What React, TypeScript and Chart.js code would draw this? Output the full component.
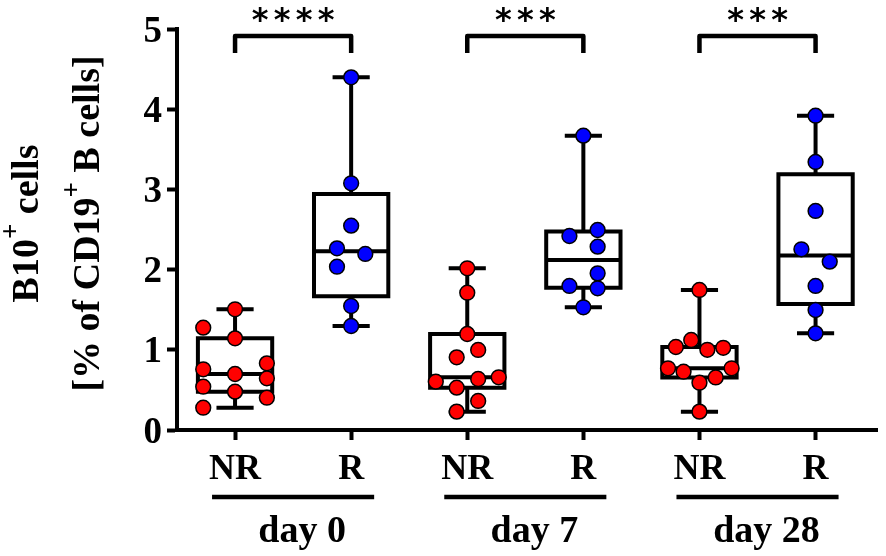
import React, { useEffect, useRef } from "react";
import { Chart, registerables } from "chart.js";

Chart.register(...registerables);

// ---------- data ----------
const groupLabels = ["NR", "R", "NR", "R", "NR", "R"];
const dayLabels = ["day 0", "day 7", "day 28"];
const significance = ["****", "***", "***"];
const yTickValues = [0, 1, 2, 3, 4, 5];

const nrDay0 = [1.505, 1.276, 1.143, 0.831, 0.757, 0.698, 0.644, 0.54, 0.478, 0.403, 0.278];
const nrDay0Slot = [0, -0.274, 0, 0.274, -0.274, 0, 0.274, -0.274, 0, 0.274, -0.274];

const rDay0 = [4.397, 3.076, 2.548, 2.265, 2.195, 2.036, 1.546, 1.297];
const rDay0Slot = [0, 0, 0, -0.122, 0.122, -0.122, 0, 0];

const nrDay7 = [2.016, 1.712, 1.197, 0.998, 0.906, 0.603, 0.636, 0.657, 0.528, 0.362, 0.229];
const nrDay7Slot = [0, 0, 0, 0.094, -0.091, -0.271, 0.094, 0.271, -0.091, 0.094, -0.091];

const rDay7 = [3.67, 2.419, 2.494, 2.286, 1.953, 1.796, 1.767, 1.53];
const rDay7Slot = [0, -0.12, 0.123, 0.123, 0.123, -0.12, 0.123, 0];

const nrDay28 = [1.746, 1.122, 1.035, 1.025, 1.0, 0.769, 0.727, 0.769, 0.655, 0.59, 0.229];
const nrDay28Slot = [0, -0.071, -0.203, 0.205, 0.068, -0.271, -0.137, 0.277, 0.14, 0, 0];

const rDay28 = [3.919, 3.342, 2.731, 2.253, 2.099, 1.796, 1.496, 1.205];
const rDay28Slot = [0, 0, 0, -0.122, 0.122, 0, 0, 0];

const groupValues = [nrDay0, rDay0, nrDay7, rDay7, nrDay28, rDay28];
const groupSlots = [nrDay0Slot, rDay0Slot, nrDay7Slot, rDay7Slot, nrDay28Slot, rDay28Slot];

// ---------- styles ----------
const RED = "#ff0000";
const BLUE = "#0000ff";
const SERIF = "'Liberation Serif', 'Times New Roman', serif";
const BOX_WIDTH = 0.64; // in category units
const CAP_WIDTH = 0.32;
const LINE_W = 4;

function quantile(sorted: number[], p: number) {
  const n = sorted.length;
  let r = (n + 1) * p; // 1-based rank (Prism style)
  if (r < 1) r = 1;
  if (r > n) r = n;
  const lo = Math.floor(r);
  const hi = Math.ceil(r);
  const f = r - lo;
  return sorted[lo - 1] + f * (sorted[hi - 1] - sorted[lo - 1]);
}

function boxStats(values: number[]) {
  const s = [...values].sort((a, b) => a - b);
  return {
    min: s[0],
    max: s[s.length - 1],
    q1: quantile(s, 0.25),
    med: quantile(s, 0.5),
    q3: quantile(s, 0.75),
  };
}

const boxPlugin = {
  id: "boxes",
  beforeDatasetsDraw(chart: any) {
    const { ctx, scales } = chart;
    const x = scales.x;
    const y = scales.y;
    ctx.save();
    ctx.strokeStyle = "#000";
    ctx.lineWidth = LINE_W;
    ctx.lineJoin = "miter";
    groupValues.forEach((vals, i) => {
      const s = boxStats(vals);
      const cx = x.getPixelForValue(i);
      const bl = x.getPixelForValue(i - BOX_WIDTH / 2);
      const br = x.getPixelForValue(i + BOX_WIDTH / 2);
      const cl = x.getPixelForValue(i - CAP_WIDTH / 2);
      const cr = x.getPixelForValue(i + CAP_WIDTH / 2);
      const yq1 = y.getPixelForValue(s.q1);
      const yq3 = y.getPixelForValue(s.q3);
      const ymed = y.getPixelForValue(s.med);
      const ymin = y.getPixelForValue(s.min);
      const ymax = y.getPixelForValue(s.max);
      // whiskers
      ctx.beginPath();
      ctx.moveTo(cx, ymax);
      ctx.lineTo(cx, yq3);
      ctx.moveTo(cx, yq1);
      ctx.lineTo(cx, ymin);
      ctx.moveTo(cl, ymax);
      ctx.lineTo(cr, ymax);
      ctx.moveTo(cl, ymin);
      ctx.lineTo(cr, ymin);
      ctx.stroke();
      // box
      ctx.beginPath();
      ctx.rect(bl, yq3, br - bl, yq1 - yq3);
      ctx.stroke();
      // median
      ctx.beginPath();
      ctx.moveTo(bl, ymed);
      ctx.lineTo(br, ymed);
      ctx.stroke();
    });
    ctx.restore();
  },
};

function drawRich(ctx: CanvasRenderingContext2D, parts: { t: string; sup?: boolean }[], size: number) {
  const big = `bold ${size}px ${SERIF}`;
  const small = `bold ${Math.round(size * 0.7)}px ${SERIF}`;
  let total = 0;
  const widths = parts.map((p) => {
    ctx.font = p.sup ? small : big;
    const w = ctx.measureText(p.t).width;
    total += w;
    return w;
  });
  let cur = -total / 2;
  parts.forEach((p, i) => {
    ctx.font = p.sup ? small : big;
    ctx.fillText(p.t, cur, p.sup ? -size * 0.5 : 0);
    cur += widths[i];
  });
}

const annotationPlugin = {
  id: "annotations",
  afterDraw(chart: any) {
    const { ctx, scales, chartArea } = chart;
    const x = scales.x;
    const y = scales.y;
    ctx.save();
    ctx.fillStyle = "#000";
    ctx.strokeStyle = "#000";

    // y axis title (two lines, rotated)
    const cy = (chartArea.top + chartArea.bottom) / 2 - 6;
    ctx.textAlign = "left";
    ctx.textBaseline = "alphabetic";
    ctx.save();
    ctx.translate(38, cy);
    ctx.rotate(-Math.PI / 2);
    drawRich(ctx, [{ t: "B10" }, { t: "+", sup: true }, { t: " cells" }], 38);
    ctx.restore();
    ctx.save();
    ctx.translate(99, cy);
    ctx.rotate(-Math.PI / 2);
    drawRich(ctx, [{ t: "[% of CD19" }, { t: "+", sup: true }, { t: " B cells]" }], 38);
    ctx.restore();

    // group underlines and day labels
    ctx.lineWidth = 4.5;
    ctx.lineCap = "butt";
    dayLabels.forEach((lbl, k) => {
      const a = x.getPixelForValue(2 * k);
      const b = x.getPixelForValue(2 * k + 1);
      ctx.beginPath();
      ctx.moveTo(a - 23, chartArea.bottom + 67);
      ctx.lineTo(b + 23, chartArea.bottom + 67);
      ctx.stroke();
      ctx.font = `bold 38px ${SERIF}`;
      ctx.textAlign = "center";
      ctx.textBaseline = "alphabetic";
      ctx.fillText(lbl, (a + b) / 2 + 9, chartArea.bottom + 112);
    });

    // significance brackets
    ctx.lineWidth = 4.5;
    ctx.lineJoin = "round";
    const top = y.getPixelForValue(5);
    significance.forEach((stars, k) => {
      const a = x.getPixelForValue(2 * k);
      const b = x.getPixelForValue(2 * k + 1);
      ctx.beginPath();
      ctx.moveTo(a, top + 24);
      ctx.lineTo(a, top + 7);
      ctx.lineTo(b, top + 7);
      ctx.lineTo(b, top + 24);
      ctx.stroke();
      ctx.font = `bold 32px 'DejaVu Sans', sans-serif`;
      ctx.textAlign = "center";
      ctx.textBaseline = "alphabetic";
      const n = stars.length;
      const mid = (a + b) / 2;
      for (let j = 0; j < n; j++) {
        ctx.fillText("*", mid + (j - (n - 1) / 2) * 22, top + 1);
      }
    });
    ctx.restore();
  },
};

export default function App() {
  const ref = useRef<HTMLCanvasElement>(null);
  useEffect(() => {
    if (!ref.current) return;
    const datasets = groupValues.map((vals, i) => ({
      type: "scatter" as const,
      label: groupLabels[i],
      data: vals.map((v, j) => ({ x: i + groupSlots[i][j], y: v })),
      backgroundColor: i % 2 === 0 ? RED : BLUE,
      borderColor: "#000",
      borderWidth: 1.5,
      pointRadius: 7.4,
      pointHoverRadius: 7.4,
      clip: false as any,
    }));
    const chart = new Chart(ref.current, {
      type: "scatter",
      data: { datasets },
      plugins: [boxPlugin, annotationPlugin],
      options: {
        animation: false,
        responsive: true,
        maintainAspectRatio: false,
        layout: { padding: { top: 29, right: 4, left: 0, bottom: 0 } },
        plugins: { legend: { display: false }, tooltip: { enabled: false } },
        scales: {
          x: {
            type: "linear",
            min: -0.5,
            max: 5.53,
            afterBuildTicks: (scale: any) => {
              scale.ticks = groupLabels.map((_, i) => ({ value: i }));
            },
            afterFit: (scale: any) => {
              scale.height = 126;
            },
            ticks: {
              autoSkip: false,
              maxRotation: 0,
              padding: 8,
              color: "#000",
              font: { family: SERIF, size: 36, weight: "bold" },
              callback: (v: any) => groupLabels[Math.round(Number(v))] ?? "",
            },
            grid: {
              display: true,
              drawOnChartArea: false,
              drawTicks: true,
              tickLength: 10,
              tickWidth: 4,
              tickColor: "#000",
            },
            border: { display: true, width: 4, color: "#000" },
          },
          y: {
            type: "linear",
            min: 0,
            max: 5,
            afterBuildTicks: (scale: any) => {
              scale.ticks = yTickValues.map((v) => ({ value: v }));
            },
            afterFit: (scale: any) => {
              scale.width = 177;
            },
            ticks: {
              padding: 5,
              labelOffset: 3,
              color: "#000",
              font: { family: SERIF, size: 37, weight: "bold" },
              callback: (v: any) => String(v),
            },
            grid: {
              display: true,
              drawOnChartArea: false,
              drawTicks: true,
              tickLength: 10,
              tickWidth: 4,
              tickColor: "#000",
            },
            border: { display: true, width: 4, color: "#000" },
          },
        },
      } as any,
    });
    return () => chart.destroy();
  }, []);
  return (
    <div style={{ position: "fixed", left: 0, top: 0, width: 886, height: 556, background: "#fff" }}>
      <canvas ref={ref} />
    </div>
  );
}
